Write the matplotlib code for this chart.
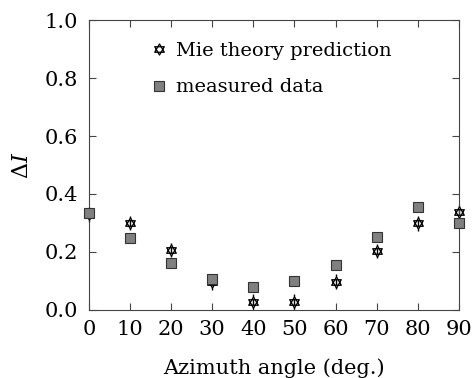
import matplotlib
matplotlib.use("Agg")
import matplotlib.pyplot as plt
from matplotlib.path import Path

plt.rcParams['font.family'] = 'DejaVu Serif'
plt.rcParams['mathtext.fontset'] = 'dejavuserif'

angles = [0, 10, 20, 30, 40, 50, 60, 70, 80, 90]
mie = [0.33, 0.30, 0.207, 0.095, 0.029, 0.029, 0.098, 0.203, 0.299, 0.337]
mie_err = [0.025] * len(angles)
measured = [0.333, 0.249, 0.163, 0.106, 0.078, 0.099, 0.156, 0.252, 0.354, 0.30]

# star of david: two overlapping triangles
up = [(0, 1), (-0.866, -0.5), (0.866, -0.5), (0, 1)]
down = [(0, -1), (-0.866, 0.5), (0.866, 0.5), (0, -1)]
codes = [Path.MOVETO, Path.LINETO, Path.LINETO, Path.CLOSEPOLY]
hexagram = Path(up + down, codes + codes)

fig = plt.figure(figsize=(4.75, 3.78), dpi=100)
ax = fig.add_axes([0.187, 0.18, 0.779, 0.767])

ax.errorbar(angles, mie, yerr=mie_err, fmt='none', ecolor='black', elinewidth=1.0,
            capsize=0, clip_on=False, zorder=2)
ax.plot(angles, mie, linestyle='none', marker=hexagram, markersize=8,
        markerfacecolor='white', markeredgecolor='black', markeredgewidth=0.9,
        clip_on=False, zorder=3, label='Mie theory prediction')
ax.plot(angles, measured, linestyle='none', marker='s', markersize=7,
        markerfacecolor='#808080', markeredgecolor='#333333', markeredgewidth=0.8,
        clip_on=False, zorder=4, label='measured data')

ax.set_xlim(0, 90)
ax.set_ylim(0, 1.0)
ax.set_xticks(range(0, 91, 10))
ax.set_yticks([0, 0.2, 0.4, 0.6, 0.8, 1.0])
ax.set_yticklabels(['0.0', '0.2', '0.4', '0.6', '0.8', '1.0'])
ax.tick_params(direction='in', top=True, right=True, labelsize=15, length=5,
               color='#444444')
ax.tick_params(axis='x', pad=7)
ax.tick_params(axis='y', pad=8)
for s in ax.spines.values():
    s.set_color('#444444')
ax.set_xlabel('Azimuth angle (deg.)', fontsize=15, labelpad=14)
ax.set_ylabel(r'$\Delta I$', fontsize=16, labelpad=8)

ax.legend(loc='upper left', bbox_to_anchor=(0.11, 0.985), frameon=False,
          fontsize=14, handletextpad=0.3, labelspacing=0.95, handlelength=1.2)

fig.savefig('out.png', dpi=100)
